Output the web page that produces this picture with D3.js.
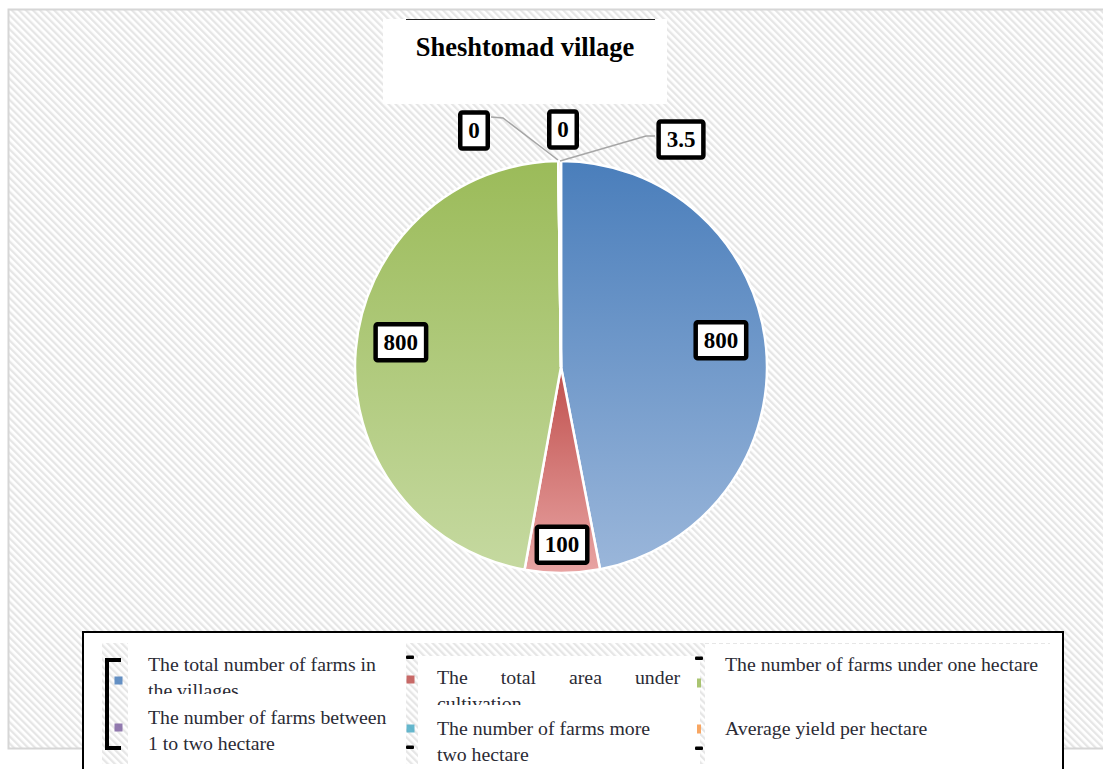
<!DOCTYPE html>
<html>
<head>
<meta charset="utf-8">
<script src="https://cdn.jsdelivr.net/npm/d3@7"></script>
<style>
  html, body { margin: 0; padding: 0; background: #fff; }
  svg { display: block; font-family: "Liberation Serif", "Times New Roman", serif; }
</style>
</head>
<body>
<div class="canvas"></div>
<script>
// Chart data
const title = "Sheshtomad village"
const categories = [
  "The total number of farms in the villages",
  "The total area under cultivation",
  "The number of farms under one hectare",
  "The number of farms between 1 to two hectare",
  "The number of farms more two hectare",
  "Average yield per hectare"
]
const values = [800, 100, 800, 0, 0, 3.5]
const topColors = ["#4a7ebb", "#c0504d", "#9bbb59", "#8064a2", "#4bacc6", "#f79646"]
const bottomColors = ["#9ab6da", "#e8a4a3", "#c5d9a0", "#b3a2c7", "#93cddd", "#fac08f"]

// Setting constants
const wWidth = 1103
const wHeight = 769
const center = {x: 561, y: 367}
const radius = 206

const svg = d3.select('.canvas')
    .append('svg')
    .attr('width', wWidth)
    .attr('height', wHeight)

const defs = svg.append('defs')

// hatched background pattern
const hatch = defs.append('pattern')
    .attr('id', 'hatch')
    .attr('patternUnits', 'userSpaceOnUse')
    .attr('width', 5)
    .attr('height', 5)
    .attr('patternTransform', 'rotate(-45)')
hatch.append('rect').attr('width', 5).attr('height', 5).attr('fill', '#ffffff')
hatch.append('rect').attr('width', 2.3).attr('height', 5).attr('fill', '#e6e6e6')

// slice gradients
values.forEach((v, i) => {
  const g = defs.append('linearGradient')
      .attr('id', `grad${i}`)
      .attr('x1', 0).attr('y1', 0).attr('x2', 0).attr('y2', 1)
  g.append('stop').attr('offset', '0%').attr('stop-color', topColors[i])
  g.append('stop').attr('offset', '100%').attr('stop-color', bottomColors[i])
})

// chart area frame
svg.append('rect')
    .attr('x', 8.5).attr('y', 9.5)
    .attr('width', 1100).attr('height', 739)
    .attr('fill', 'url(#hatch)')
    .attr('stroke', '#d6d6d6')
    .attr('stroke-width', 2)

// title box
svg.append('rect')
    .attr('x', 383).attr('y', 19)
    .attr('width', 284).attr('height', 85)
    .attr('fill', '#fff')
svg.append('line')
    .attr('x1', 406).attr('x2', 655)
    .attr('y1', 19.5).attr('y2', 19.5)
    .attr('stroke', '#222')
svg.append('text')
    .attr('x', 525).attr('y', 56)
    .attr('text-anchor', 'middle')
    .attr('font-size', 26.5)
    .attr('font-weight', 'bold')
    .text(title)

// pie
const pie = d3.pie().sort(null).value(d => d)
const arcs = pie(values)
const arc = d3.arc().innerRadius(0).outerRadius(radius)

const graph = svg.append('g')
    .attr('transform', `translate(${center.x}, ${center.y})`)

graph.selectAll('path')
    .data(arcs)
    .enter()
    .append('path')
    .attr('d', arc)
    .attr('fill', (d, i) => `url(#grad${i})`)
    .attr('stroke', '#fff')
    .attr('stroke-width', 2.5)

// labels: big slices inside, tiny slices outside with leader lines
const inner = d3.arc().innerRadius(radius * 0.78).outerRadius(radius * 0.78)
const outsideSpots = {3: [-87, -237], 4: [2, -238], 5: [120, -228]}

const labels = graph.selectAll('g.label')
    .data(arcs)
    .enter()
    .append('g')
    .attr('class', 'label')
    .attr('transform', (d, i) => {
      if (outsideSpots[i]) return `translate(${outsideSpots[i]})`
      let [x, y] = inner.centroid(d)
      if (i === 1) y = radius * 0.86
      else y -= 12
      return `translate(${x}, ${y})`
    })

// leader lines
const leader = d3.line()
graph.append('path')
    .attr('d', leader([[-70, -250], [-58, -249], [-3, -207]]))
    .attr('fill', 'none').attr('stroke', '#a6a6a6').attr('stroke-width', 1.5)
graph.append('path')
    .attr('d', leader([[94, -231], [85, -231], [-1, -206]]))
    .attr('fill', 'none').attr('stroke', '#a6a6a6').attr('stroke-width', 1.5)

labels.append('text')
    .attr('text-anchor', 'middle')
    .attr('dy', '0.36em')
    .attr('font-size', 23)
    .attr('font-weight', 'bold')
    .text(d => d.data)
    .each(function () {
      const b = this.getBBox()
      d3.select(this.parentNode).insert('rect', 'text')
          .attr('x', b.x - 8).attr('y', -17.5)
          .attr('width', b.width + 16).attr('height', 36)
          .attr('rx', 2)
          .attr('fill', '#fff')
          .attr('stroke', '#000')
          .attr('stroke-width', 4.5)
    })

// legend box
svg.append('rect')
    .attr('x', 83).attr('y', 632)
    .attr('width', 980).attr('height', 150)
    .attr('fill', '#fff')
    .attr('stroke', '#000')
    .attr('stroke-width', 2)
svg.append('rect')
    .attr('x', 102).attr('y', 643)
    .attr('width', 603).attr('height', 121)
    .attr('fill', 'url(#hatch)')
svg.append('rect').attr('x', 128).attr('y', 643).attr('width', 278).attr('height', 121).attr('fill', '#fff')
svg.append('rect').attr('x', 418).attr('y', 656).attr('width', 282).attr('height', 108).attr('fill', '#fff')
svg.append('line')
    .attr('x1', 705).attr('x2', 1050).attr('y1', 643.5).attr('y2', 643.5)
    .attr('stroke', '#e6e6e6').attr('stroke-dasharray', '4,3')

// black bracket and dashes
svg.append('path')
    .attr('d', 'M121,660 H107 V748 H121')
    .attr('fill', 'none').attr('stroke', '#000').attr('stroke-width', 4)
;[[410, 657], [410, 747], [699, 658], [699, 748]].forEach(([x, y]) => {
  svg.append('rect').attr('x', x - 4).attr('y', y - 1.5)
      .attr('width', 8).attr('height', 3.5).attr('rx', 1).attr('fill', '#000')
})

const legend = svg.append('g')

// legend layout per entry
const legendSlots = [
  {mx: 118, my: 681, tx: 148, ty: 671, clip: 694, w: 232},
  {mx: 410, my: 680, tx: 437, ty: 684, clip: 705, w: 243, justify: true},
  {mx: 699, my: 683, tx: 725, ty: 671, clip: 764, w: 320},
  {mx: 118, my: 728, tx: 148, ty: 724, clip: 764, w: 240},
  {mx: 410, my: 729, tx: 437, ty: 735, clip: 769, w: 230},
  {mx: 699, my: 729, tx: 725, ty: 735, clip: 764, w: 320}
]
const legendLines = [
  ["The total number of farms in", "the villages"],
  ["The total area under", "cultivation"],
  ["The number of farms under one hectare"],
  ["The number of farms between", "1 to two hectare"],
  ["The number of farms more", "two hectare"],
  ["Average yield per hectare"]
]

categories.forEach((c, i) => {
  const s = legendSlots[i]
  const narrow = i === 2 || i === 5
  legend.append('rect')
      .attr('x', s.mx - (narrow ? 2 : 3.5)).attr('y', s.my - 4.5)
      .attr('width', narrow ? 4 : 8).attr('height', narrow ? 9 : 8)
      .attr('fill', topColors[i])
      .attr('opacity', 0.85)
  defs.append('clipPath').attr('id', `lclip${i}`)
      .append('rect').attr('x', s.tx - 5).attr('y', 640)
      .attr('width', 400).attr('height', s.clip - 640)
  const t = legend.append('g').attr('clip-path', `url(#lclip${i})`)
  legendLines[i].forEach((line, j) => {
    const y = s.ty + j * 25.5
    if (s.justify && j === 0) {
      // justified line: equal gaps between words
      const words = line.split(' ')
      const nodes = words.map(w => t.append('text')
          .attr('y', y)
          .attr('font-size', 19.8)
          .attr('fill', '#2b2b35')
          .text(w))
      const widths = nodes.map(n => n.node().getComputedTextLength())
      const gap = (s.w - d3.sum(widths)) / (words.length - 1)
      let x = s.tx
      nodes.forEach((n, k) => {
        n.attr('x', x)
        x += widths[k] + gap
      })
    } else {
      t.append('text')
          .attr('x', s.tx).attr('y', y)
          .attr('font-size', 19.8)
          .attr('fill', '#2b2b35')
          .text(line)
    }
  })
})
</script>
</body>
</html>
